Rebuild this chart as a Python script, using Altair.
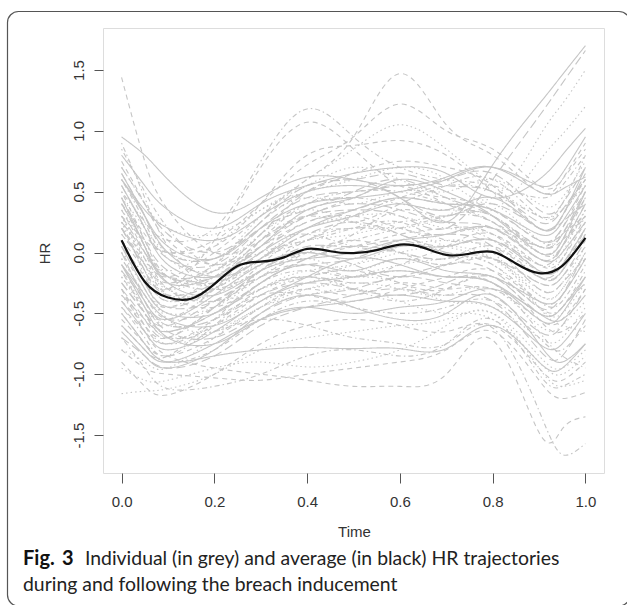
import altair as alt
import pandas as pd

# ---------------- data ----------------
time_grid = [0.0, 0.05, 0.1, 0.2, 0.3, 0.4, 0.5, 0.6, 0.7, 0.8, 0.9, 0.95, 1.0]

hr01 = [1.44, 0.75, 0.35, 0.00, 0.10, 0.30, 0.45, 0.55, 0.40, 0.25, 0.05, 0.10, 0.30]
hr02 = [0.95, 0.80, 0.60, 0.33, 0.45, 0.62, 0.60, 0.55, 0.62, 0.70, 0.50, 0.52, 0.62]
hr03 = [0.50, 0.25, 0.10, 0.20, 0.75, 1.18, 0.95, 0.70, 0.60, 0.55, 0.45, 0.55, 0.80]
hr04 = [0.20, -0.05, -0.20, 0.00, 0.30, 0.60, 0.95, 1.47, 1.05, 0.80, 0.50, 0.60, 0.90]
hr05 = [0.40, 0.15, 0.00, 0.10, 0.40, 0.72, 0.95, 1.22, 1.00, 0.85, 0.55, 0.60, 0.85]
hr06 = [0.10, -0.15, -0.30, 0.10, 0.70, 1.07, 0.85, 0.55, 0.45, 0.35, 0.10, 0.15, 0.30]
hr07 = [0.00, -0.20, -0.30, -0.10, 0.30, 0.60, 0.85, 1.05, 0.85, 0.55, 0.30, 0.35, 0.55]
hr08 = [0.30, 0.10, 0.00, 0.05, 0.40, 0.80, 0.88, 0.92, 0.80, 0.50, 0.20, 0.25, 0.40]
hr09 = [0.60, 0.35, 0.20, 0.10, 0.30, 0.50, 0.55, 0.45, 0.25, 0.72, 1.22, 1.46, 1.70]
hr10 = [0.25, 0.00, -0.20, -0.20, 0.10, 0.30, 0.35, 0.30, 0.20, 0.60, 1.12, 1.39, 1.66]
hr11 = [0.70, 0.40, 0.20, 0.15, 0.35, 0.50, 0.60, 0.70, 0.60, 0.45, 0.95, 1.22, 1.50]
hr12 = [0.45, 0.20, 0.00, -0.05, 0.25, 0.45, 0.40, 0.50, 0.45, 0.35, 0.75, 0.97, 1.20]
hr13 = [0.80, 0.55, 0.35, 0.20, 0.40, 0.55, 0.65, 0.70, 0.65, 0.45, 0.60, 0.80, 1.02]
hr14 = [0.70, 0.40, 0.15, 0.00, 0.25, 0.55, 0.60, 0.65, 0.55, 0.50, 0.25, 0.35, 0.60]
hr15 = [0.55, 0.20, -0.05, -0.10, 0.20, 0.45, 0.50, 0.55, 0.60, 0.65, 0.35, 0.40, 0.70]
hr16 = [0.85, 0.50, 0.20, -0.10, 0.15, 0.40, 0.45, 0.40, 0.35, 0.30, 0.05, 0.15, 0.45]
hr17 = [0.30, 0.00, -0.20, -0.15, 0.15, 0.50, 0.60, 0.45, 0.30, 0.40, 0.20, 0.30, 0.65]
hr18 = [0.40, 0.05, -0.25, -0.20, 0.05, 0.35, 0.45, 0.60, 0.50, 0.30, 0.00, 0.10, 0.50]
hr19 = [0.60, 0.25, -0.05, -0.15, 0.10, 0.30, 0.25, 0.40, 0.55, 0.60, 0.30, 0.35, 0.60]
hr20 = [0.20, -0.15, -0.35, -0.25, 0.05, 0.30, 0.40, 0.35, 0.25, 0.20, -0.05, 0.05, 0.40]
hr21 = [0.65, 0.30, 0.00, -0.20, -0.05, 0.20, 0.35, 0.45, 0.40, 0.35, 0.15, 0.25, 0.55]
hr22 = [0.15, -0.10, -0.30, -0.35, -0.05, 0.20, 0.30, 0.30, 0.20, 0.15, -0.10, 0.00, 0.35]
hr23 = [0.90, 0.45, 0.05, -0.30, -0.10, 0.15, 0.20, 0.25, 0.30, 0.25, -0.05, 0.05, 0.30]
hr24 = [0.10, -0.25, -0.45, -0.40, -0.15, 0.05, 0.05, 0.10, 0.00, -0.05, -0.25, -0.20, 0.10]
hr25 = [-0.10, -0.40, -0.55, -0.35, -0.10, 0.00, -0.05, 0.05, 0.05, 0.10, -0.15, -0.10, 0.20]
hr26 = [0.30, -0.10, -0.35, -0.30, -0.05, 0.10, 0.15, 0.20, 0.05, -0.05, -0.30, -0.25, 0.05]
hr27 = [0.00, -0.30, -0.45, -0.25, 0.05, 0.15, 0.05, 0.00, -0.05, 0.05, -0.20, -0.15, 0.15]
hr28 = [-0.25, -0.50, -0.60, -0.40, -0.20, -0.10, -0.05, 0.10, 0.15, 0.05, -0.30, -0.25, -0.05]
hr29 = [0.45, 0.05, -0.25, -0.35, -0.15, -0.05, 0.00, 0.10, 0.15, 0.20, -0.05, 0.00, 0.25]
hr30 = [-0.05, -0.35, -0.50, -0.45, -0.20, -0.05, -0.15, -0.05, -0.10, -0.05, -0.35, -0.30, 0.00]
hr31 = [0.20, -0.15, -0.40, -0.20, 0.00, 0.10, 0.20, 0.25, 0.10, 0.05, -0.20, -0.15, 0.20]
hr32 = [-0.35, -0.55, -0.65, -0.50, -0.25, -0.05, 0.05, 0.00, -0.05, 0.00, -0.20, -0.10, 0.20]
hr33 = [0.05, -0.30, -0.50, -0.50, -0.25, -0.10, -0.15, -0.05, -0.15, -0.20, -0.40, -0.35, -0.05]
hr34 = [0.35, 0.00, -0.30, -0.40, -0.20, 0.00, 0.10, 0.00, -0.10, -0.05, -0.25, -0.20, 0.05]
hr35 = [-0.15, -0.45, -0.60, -0.55, -0.30, -0.15, -0.10, 0.00, 0.05, -0.05, -0.35, -0.30, 0.00]
hr36 = [0.50, 0.10, -0.20, -0.30, -0.15, 0.00, 0.15, 0.35, 0.25, 0.10, -0.15, -0.05, 0.30]
hr37 = [-0.30, -0.55, -0.70, -0.45, -0.15, 0.00, -0.10, -0.20, -0.10, 0.00, -0.20, -0.15, 0.15]
hr38 = [-0.40, -0.65, -0.80, -0.65, -0.40, -0.25, -0.20, -0.15, -0.20, -0.25, -0.50, -0.45, -0.20]
hr39 = [-0.55, -0.75, -0.85, -0.70, -0.45, -0.30, -0.35, -0.25, -0.30, -0.30, -0.55, -0.55, -0.30]
hr40 = [-0.20, -0.50, -0.70, -0.60, -0.40, -0.30, -0.25, -0.30, -0.35, -0.30, -0.60, -0.60, -0.40]
hr41 = [-0.45, -0.70, -0.85, -0.60, -0.30, -0.20, -0.30, -0.40, -0.30, -0.20, -0.45, -0.45, -0.15]
hr42 = [0.00, -0.40, -0.65, -0.70, -0.50, -0.35, -0.30, -0.20, -0.25, -0.35, -0.65, -0.60, -0.30]
hr43 = [-0.60, -0.80, -0.90, -0.75, -0.55, -0.45, -0.40, -0.35, -0.40, -0.45, -0.75, -0.75, -0.50]
hr44 = [-0.30, -0.60, -0.75, -0.55, -0.35, -0.35, -0.40, -0.30, -0.20, -0.15, -0.40, -0.35, -0.05]
hr45 = [0.25, -0.20, -0.55, -0.65, -0.45, -0.25, -0.20, -0.25, -0.40, -0.45, -0.70, -0.70, -0.45]
hr46 = [-0.50, -0.75, -0.90, -0.80, -0.55, -0.40, -0.45, -0.50, -0.45, -0.40, -0.70, -0.80, -0.60]
hr47 = [-0.70, -0.85, -0.95, -0.85, -0.60, -0.45, -0.35, -0.30, -0.35, -0.40, -0.80, -0.85, -0.55]
hr48 = [-0.10, -0.45, -0.70, -0.75, -0.55, -0.45, -0.50, -0.45, -0.40, -0.30, -0.50, -0.55, -0.35]
hr49 = [-0.30, -0.65, -0.85, -0.95, -1.00, -1.05, -1.10, -1.10, -1.00, -0.72, -1.48, -1.45, -1.35]
hr50 = [-0.15, -0.50, -0.70, -0.65, -0.55, -0.60, -0.70, -0.75, -0.75, -0.62, -1.30, -1.66, -1.57]
hr51 = [-1.16, -1.14, -1.12, -1.00, -0.80, -0.70, -0.65, -0.60, -0.55, -0.50, -0.85, -0.95, -0.80]
hr52 = [-0.90, -1.10, -1.17, -1.00, -0.75, -0.60, -0.55, -0.60, -0.65, -0.60, -0.95, -1.05, -0.90]
hr53 = [-0.70, -0.95, -1.12, -1.10, -1.00, -0.85, -0.80, -0.85, -0.75, -0.55, -1.00, -1.10, -1.00]
hr54 = [-0.50, -0.75, -0.90, -0.85, -0.80, -0.78, -0.79, -0.79, -0.79, -0.60, -0.90, -0.95, -0.75]
hr55 = [-0.80, -0.95, -1.00, -1.03, -1.05, -1.00, -0.95, -0.90, -0.80, -0.65, -1.05, -1.20, -1.15]
hr56 = [-0.95, -1.05, -1.05, -0.95, -0.90, -0.94, -0.90, -0.80, -0.60, -0.50, -0.95, -1.10, -1.05]
hr57 = [0.15, -0.10, -0.25, -0.10, 0.25, 0.50, 0.65, 0.75, 0.70, 0.55, 0.20, 0.30, 0.60]
hr58 = [0.35, 0.05, -0.15, 0.05, 0.35, 0.55, 0.70, 0.60, 0.50, 0.60, 0.40, 0.45, 0.75]
hr59 = [-0.20, -0.45, -0.55, -0.30, 0.10, 0.40, 0.50, 0.50, 0.40, 0.25, 0.00, 0.10, 0.45]
hr60 = [0.05, -0.25, -0.45, -0.30, 0.00, 0.25, 0.35, 0.45, 0.40, 0.35, 0.10, 0.20, 0.50]
hr61 = [0.60, 0.30, 0.05, -0.05, 0.20, 0.40, 0.45, 0.50, 0.60, 0.70, 0.55, 0.65, 0.95]
hr62 = [-0.40, -0.60, -0.70, -0.45, -0.20, -0.10, -0.20, -0.10, 0.05, 0.15, -0.10, -0.05, 0.25]
hr63 = [0.25, -0.05, -0.30, -0.40, -0.30, -0.20, -0.10, 0.05, 0.10, 0.00, -0.45, -0.60, -0.65]
hr64 = [-0.60, -0.80, -0.85, -0.55, -0.25, -0.15, -0.20, -0.15, -0.20, -0.25, -0.65, -0.85, -0.95]
hr65 = [0.45, 0.10, -0.15, -0.25, -0.05, 0.15, 0.25, 0.15, 0.05, 0.10, -0.10, 0.05, 0.40]
hr66 = [-0.10, -0.35, -0.55, -0.60, -0.40, -0.20, -0.05, -0.10, -0.20, -0.25, -0.55, -0.50, -0.20]
hr67 = [0.75, 0.40, 0.10, -0.10, 0.05, 0.25, 0.30, 0.20, 0.15, 0.20, 0.05, 0.20, 0.55]
hr68 = [-0.80, -0.90, -0.95, -0.70, -0.45, -0.35, -0.30, -0.40, -0.50, -0.55, -0.90, -1.00, -0.85]
hr69 = [0.05, -0.20, -0.40, -0.30, -0.10, 0.00, 0.10, 0.20, 0.30, 0.30, 0.00, 0.05, 0.35]
hr70 = [-0.25, -0.50, -0.65, -0.50, -0.30, -0.20, -0.25, -0.20, -0.10, -0.15, -0.45, -0.35, 0.00]
hr71 = [0.55, 0.20, -0.10, -0.20, 0.00, 0.20, 0.30, 0.40, 0.35, 0.45, 0.20, 0.30, 0.70]
hr72 = [-0.45, -0.65, -0.75, -0.60, -0.35, -0.20, -0.15, -0.25, -0.30, -0.20, -0.55, -0.65, -0.50]
hr73 = [0.30, -0.05, -0.30, -0.15, 0.15, 0.35, 0.25, 0.20, 0.30, 0.40, 0.10, 0.15, 0.45]
hr74 = [-0.05, -0.35, -0.55, -0.45, -0.15, 0.10, 0.20, 0.15, 0.00, -0.10, -0.40, -0.40, -0.10]
hr75 = [0.65, 0.30, 0.00, -0.05, 0.20, 0.35, 0.50, 0.60, 0.45, 0.30, 0.05, 0.15, 0.50]
hr76 = [-0.65, -0.85, -0.95, -0.80, -0.50, -0.35, -0.45, -0.55, -0.50, -0.35, -0.75, -0.90, -0.75]
hr77 = [0.20, -0.10, -0.35, -0.45, -0.25, -0.05, 0.05, 0.15, 0.20, 0.15, -0.15, -0.10, 0.15]
hr78 = [-0.35, -0.60, -0.75, -0.65, -0.45, -0.30, -0.20, -0.10, -0.05, -0.10, -0.45, -0.50, -0.25]
hr79 = [0.40, 0.05, -0.20, -0.25, -0.05, 0.10, 0.30, 0.45, 0.55, 0.50, 0.30, 0.40, 0.80]
hr80 = [-0.15, -0.40, -0.60, -0.55, -0.35, -0.25, -0.30, -0.35, -0.25, -0.20, -0.50, -0.45, -0.25]

# drawing order (line types cycle solid, dashed, dotted, dot-dash, long-dash)
trajectories = [hr02, hr01, hr07, hr03, hr10,
                hr09, hr04, hr11, hr50, hr14,
                hr13, hr05, hr12, hr53, hr15,
                hr54, hr06, hr51, hr16, hr17,
                hr18, hr08, hr56, hr19, hr20,
                hr21, hr49, hr22, hr23, hr24,
                hr25, hr52, hr26, hr27, hr28,
                hr29, hr55, hr30, hr31, hr32,
                hr33, hr34, hr35, hr36, hr37,
                hr38, hr39, hr40, hr41, hr42,
                hr43, hr44, hr45, hr46, hr47,
                hr48, hr57, hr58, hr59, hr60,
                hr61, hr62, hr63, hr64, hr65,
                hr66, hr67, hr68, hr69, hr70,
                hr71, hr72, hr73, hr74, hr75,
                hr76, hr77, hr78, hr79, hr80]

mean_time = [0.0, 0.05, 0.1, 0.15, 0.2, 0.25, 0.3, 0.35, 0.4, 0.45, 0.5,
             0.55, 0.6, 0.65, 0.7, 0.75, 0.8, 0.85, 0.9, 0.95, 1.0]
mean_hr = [0.10, -0.24, -0.37, -0.38, -0.26, -0.11, -0.075, -0.04, 0.03, 0.01, -0.005,
           0.02, 0.065, 0.04, -0.02, -0.01, 0.005, -0.09, -0.17, -0.11, 0.12]

x_ticks = [0.0, 0.2, 0.4, 0.6, 0.8, 1.0]
y_ticks = [-1.5, -1.0, -0.5, 0.0, 0.5, 1.0, 1.5]
x_title = "Time"
y_title = "HR"
caption_bold = "Fig. 3"
caption_line1 = "Individual (in grey) and average (in black) HR trajectories"
caption_line2 = "during and following the breach inducement"

# ---------------- build tables ----------------
lty_names = ["solid", "dashed", "dotted", "dotdash", "longdash"]
lty_dash = [[1, 0], [5, 4], [1.5, 3], [1.5, 3, 5, 3], [9, 4]]

rows = []
for i, series in enumerate(trajectories):
    for t, v in zip(time_grid, series):
        rows.append({"id": i, "time": t, "hr": v, "lty": lty_names[i % 5]})
traj_df = pd.DataFrame(rows)
mean_df = pd.DataFrame({"time": mean_time, "hr": mean_hr})

W, H = 501, 445
x_scale = alt.Scale(domain=[-0.04, 1.04], nice=False, zero=False)
y_scale = alt.Scale(domain=[-1.812, 1.845], nice=False, zero=False)

label_font = "Liberation Sans"
cap_font = "Lato"
lab_expr = "(datum.value < 0 ? '-' : '') + format(abs(datum.value), '.1f')"

x_axis = alt.Axis(values=x_ticks, labelExpr=lab_expr, domain=False, grid=False,
                  tickSize=10, tickColor="#555", tickWidth=1,
                  labelFont=label_font, labelFontSize=15, labelColor="#333",
                  labelPadding=11, title=x_title, titleFont=label_font,
                  titleFontSize=15, titleFontWeight="normal", titleColor="#333",
                  titleX=251, titleY=58, titleBaseline="middle", titleAlign="center")
y_axis = alt.Axis(values=y_ticks, labelExpr=lab_expr, domain=False, grid=False,
                  tickSize=9, tickColor="#555", tickWidth=1,
                  labelFont=label_font, labelFontSize=15, labelColor="#333",
                  labelAngle=270, labelAlign="center", labelBaseline="bottom",
                  labelPadding=8, title=y_title, titleFont=label_font,
                  titleFontSize=15, titleFontWeight="normal", titleColor="#333",
                  titleX=-59, titleY=225, titleAngle=270,
                  titleBaseline="middle", titleAlign="center")

grey = alt.Chart(traj_df).mark_line(
    interpolate="natural", color="#c6c6c6", strokeWidth=1.1, clip=True
).encode(
    x=alt.X("time:Q", scale=x_scale, axis=x_axis),
    y=alt.Y("hr:Q", scale=y_scale, axis=y_axis),
    detail="id:N",
    strokeDash=alt.StrokeDash("lty:N", scale=alt.Scale(domain=lty_names, range=lty_dash),
                              legend=None),
)

mean_line = alt.Chart(mean_df).mark_line(
    interpolate="natural", color="#111111", strokeWidth=2.2, clip=True
).encode(
    x=alt.X("time:Q", scale=x_scale),
    y=alt.Y("hr:Q", scale=y_scale),
)

border = alt.Chart(pd.DataFrame({"k": [0]})).mark_rect(
    fill=None, stroke="#555", strokeWidth=1.2, cornerRadius=11
).encode(
    x=alt.value(-95.5), x2=alt.value(527), y=alt.value(-16.5), y2=alt.value(578)
)

bold_word, bold_num = caption_bold.split(" ")
cap_df = pd.DataFrame({"k": [0]})
cap_bold_a = alt.Chart(cap_df).mark_text(
    align="left", baseline="middle", font=cap_font, fontSize=20,
    fontWeight="bold", color="#111"
).encode(x=alt.value(-80), y=alt.value(531), text=alt.value(bold_word))
cap_bold_b = alt.Chart(cap_df).mark_text(
    align="left", baseline="middle", font=cap_font, fontSize=20,
    fontWeight="bold", color="#111"
).encode(x=alt.value(-41), y=alt.value(531), text=alt.value(bold_num))
cap_1 = alt.Chart(cap_df).mark_text(
    align="left", baseline="middle", font=cap_font, fontSize=19.4, color="#222"
).encode(x=alt.value(-18), y=alt.value(531), text=alt.value(caption_line1))
cap_2 = alt.Chart(cap_df).mark_text(
    align="left", baseline="middle", font=cap_font, fontSize=19.4, color="#222"
).encode(x=alt.value(-80), y=alt.value(557), text=alt.value(caption_line2))

chart = alt.layer(grey, mean_line, border, cap_bold_a, cap_bold_b, cap_1, cap_2).properties(
    width=W, height=H,
    autosize=alt.AutoSizeParams(type="none"),
    padding={"left": 103, "top": 28, "right": 23, "bottom": 132},
).configure_view(stroke="#555", strokeWidth=1.2).configure(background="white")

chart.save("out.html", embed_options={"renderer": "svg", "actions": False})
